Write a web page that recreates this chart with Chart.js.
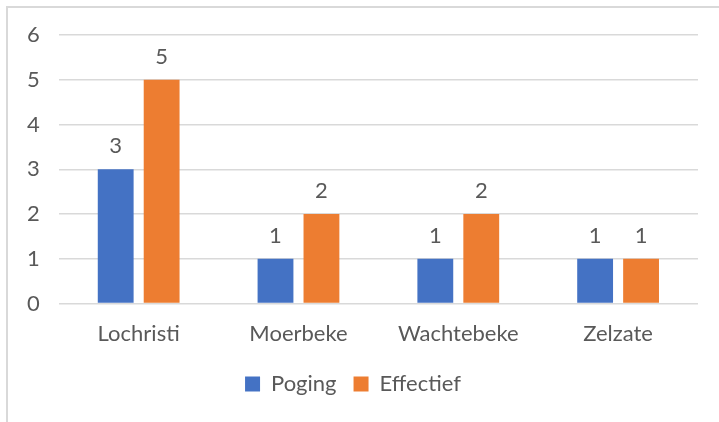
<!DOCTYPE html>
<html>
<head>
<meta charset="utf-8">
<script src="https://cdn.jsdelivr.net/npm/chart.js@4"></script>
<style>
html,body{margin:0;padding:0;background:#fff;}
#wrap{position:absolute;left:0;top:0;width:719px;height:422px;}
</style>
</head>
<body>
<div id="wrap"><canvas id="c" width="719" height="422"></canvas></div>
<script>
const categories = ["Lochristi", "Moerbeke", "Wachtebeke", "Zelzate"];
const seriesNames = ["Poging", "Effectief"];
const poging = [3, 1, 1, 1];
const effectief = [5, 2, 2, 1];
const yTicks = [0, 1, 2, 3, 4, 5, 6];

const FONT = "Lato, 'Open Sans', sans-serif";
const TXT = "#595959";
const FS = 22;

const borderPlugin = {
  id: 'frame',
  beforeDraw(chart) {
    const ctx = chart.ctx;
    ctx.save();
    ctx.fillStyle = '#fff';
    ctx.fillRect(0, 0, chart.width, chart.height);
    ctx.strokeStyle = '#d9d9d9';
    ctx.lineWidth = 2;
    ctx.beginPath();
    ctx.moveTo(7, chart.height);
    ctx.lineTo(7, 7);
    ctx.lineTo(chart.width, 7);
    ctx.stroke();
    ctx.restore();
  }
};

const labelPlugin = {
  id: 'valueLabels',
  afterDatasetsDraw(chart) {
    const ctx = chart.ctx;
    ctx.save();
    ctx.fillStyle = TXT;
    ctx.font = FS + "px " + FONT;
    ctx.textAlign = 'center';
    ctx.textBaseline = 'bottom';
    chart.data.datasets.forEach((ds, i) => {
      const meta = chart.getDatasetMeta(i);
      meta.data.forEach((bar, j) => {
        ctx.fillText(String(ds.data[j]), bar.x, bar.y - 12);
      });
    });
    ctx.restore();
  }
};

new Chart(document.getElementById('c'), {
  type: 'bar',
  data: {
    labels: categories,
    datasets: [
      { label: seriesNames[0], data: poging, backgroundColor: '#4472c4', categoryPercentage: 0.575, barPercentage: 0.78 },
      { label: seriesNames[1], data: effectief, backgroundColor: '#ed7d31', categoryPercentage: 0.575, barPercentage: 0.78 }
    ]
  },
  options: {
    responsive: false,
    animation: false,
    devicePixelRatio: 1,
    layout: { padding: { left: 8, right: 21, top: 35, bottom: 17 } },
    plugins: {
      legend: {
        position: 'bottom',
        labels: {
          boxWidth: 15, boxHeight: 15, padding: 17,
          color: TXT, font: { family: FONT, size: FS }
        }
      },
      tooltip: { enabled: false }
    },
    scales: {
      x: {
        grid: { display: false },
        border: { display: false },
        ticks: { color: TXT, font: { family: FONT, size: FS }, padding: 9 }
      },
      y: {
        min: yTicks[0], max: yTicks[yTicks.length - 1],
        afterBuildTicks(scale) { scale.ticks = yTicks.map(v => ({ value: v })); },
        grid: { color: '#d9d9d9', lineWidth: 1.5, drawTicks: false },
        border: { display: false },
        ticks: { color: TXT, font: { family: FONT, size: FS }, padding: 19 }
      }
    }
  },
  plugins: [borderPlugin, labelPlugin]
});
</script>
</body>
</html>
